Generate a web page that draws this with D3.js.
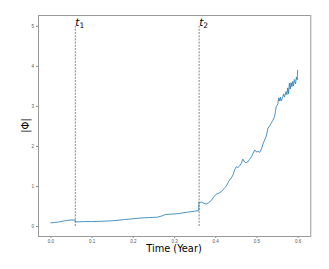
<!DOCTYPE html>
<html>
<head>
<meta charset="utf-8">
<script src="https://cdn.jsdelivr.net/npm/d3@7"></script>
<style>
  body { margin: 0; background: #fff; }
  svg { display: block; font-family: "DejaVu Sans", sans-serif; }
</style>
</head>
<body>
<svg id="chart" width="329" height="269"></svg>
<script>
// time axis (years) and |Phi|
var times = [0, 0.01, 0.02, 0.03, 0.04, 0.05, 0.06, 0.0605, 0.07, 0.08, 0.1, 0.12, 0.15, 0.18, 0.2,
  0.22, 0.24, 0.26, 0.27, 0.28, 0.3, 0.31, 0.33, 0.35, 0.36, 0.3605, 0.362, 0.366, 0.372, 0.378,
  0.384, 0.39, 0.396, 0.403, 0.409, 0.415, 0.421, 0.427, 0.431, 0.435, 0.439, 0.443, 0.447, 0.451,
  0.455, 0.459, 0.463, 0.467, 0.471, 0.475, 0.479, 0.483, 0.488, 0.492, 0.496, 0.5, 0.504, 0.508,
  0.512, 0.516, 0.52, 0.524, 0.528, 0.532, 0.536, 0.54, 0.544, 0.546, 0.548, 0.552, 0.554, 0.556,
  0.558, 0.56, 0.564, 0.566, 0.568, 0.572, 0.574, 0.576, 0.578, 0.58, 0.582, 0.584, 0.586, 0.588,
  0.59, 0.592, 0.595, 0.597, 0.599, 0.6];
var phi = [0.08, 0.085, 0.1, 0.12, 0.14, 0.15, 0.15, 0.1, 0.105, 0.11, 0.11, 0.115, 0.13, 0.16, 0.18,
  0.2, 0.21, 0.22, 0.25, 0.29, 0.3, 0.31, 0.34, 0.37, 0.38, 0.6, 0.58, 0.6, 0.57, 0.55,
  0.58, 0.63, 0.72, 0.8, 0.82, 0.86, 0.93, 1.0, 1.08, 1.15, 1.2, 1.27, 1.4, 1.48,
  1.46, 1.5, 1.56, 1.67, 1.6, 1.58, 1.6, 1.66, 1.73, 1.82, 1.9, 1.85, 1.86, 1.84,
  1.92, 2.05, 2.15, 2.25, 2.44, 2.5, 2.57, 2.64, 2.73, 2.85, 2.98, 3.05, 3.2, 3.12,
  3.22, 3.12, 3.23, 3.3, 3.22, 3.36, 3.28, 3.45, 3.3, 3.57, 3.42, 3.58, 3.48, 3.61,
  3.5, 3.66, 3.55, 3.72, 3.65, 3.9];

var xTicks = [0.0, 0.1, 0.2, 0.3, 0.4, 0.5, 0.6];
var yTicks = [0, 1, 2, 3, 4, 5];
var marks = [{ t: 0.0605, name: "1" }, { t: 0.361, name: "2" }];

var svg = d3.select("#chart"),
    box = { l: 38, t: 15, r: 310, b: 236 };

var x = d3.scaleLinear().domain([-0.03, 0.63]).range([box.l, box.r]);
var y = d3.scaleLinear().domain([-0.25, 5.27]).range([box.b, box.t]);

// tick marks and labels
var gx = svg.append("g").attr("transform", "translate(0," + box.b + ")")
  .call(d3.axisBottom(x).tickValues(xTicks).tickFormat(d3.format(".1f")).tickSize(2).tickPadding(2));
var gy = svg.append("g").attr("transform", "translate(" + box.l + ",0)")
  .call(d3.axisLeft(y).tickValues(yTicks).tickFormat(d3.format("d")).tickSize(2).tickPadding(2));
[gx, gy].forEach(function(g) {
  g.select(".domain").remove();
  g.selectAll(".tick line").attr("stroke", "#888");
  g.selectAll(".tick text").attr("fill", "#555").style("font-size", "4.5px");
});

// vertical dashed lines with t labels
marks.forEach(function(m) {
  svg.append("line")
    .attr("x1", x(m.t)).attr("x2", x(m.t))
    .attr("y1", y(0)).attr("y2", y(5))
    .attr("stroke", "#333").attr("stroke-width", 0.6)
    .attr("stroke-dasharray", "2,1.2");
  var t = svg.append("text")
    .attr("x", x(m.t)).attr("y", y(5))
    .style("font-size", "10.5px").attr("fill", "#000");
  t.append("tspan").style("font-style", "italic").text("t");
  t.append("tspan").attr("dy", 2).style("font-size", "7.5px").text(m.name);
});

// the series
var line = d3.line()
  .x(function(d, i) { return x(times[i]); })
  .y(function(d) { return y(d); });
svg.append("path")
  .datum(phi)
  .attr("d", line)
  .attr("fill", "none")
  .attr("stroke", "#1f77b4")
  .attr("stroke-width", 0.8)
  .attr("stroke-linejoin", "round");

// frame
svg.append("rect")
  .attr("x", box.l + 0.5).attr("y", box.t + 0.5)
  .attr("width", box.r - box.l).attr("height", box.b - box.t)
  .attr("fill", "none").attr("stroke", "#999").attr("stroke-width", 1);
svg.append("line").attr("x1", box.r + 1).attr("x2", box.r + 1).attr("y1", box.t).attr("y2", box.b + 1)
  .attr("stroke", "#ccc").attr("stroke-width", 1);

// axis titles
svg.append("text")
  .attr("x", (box.l + box.r) / 2).attr("y", 252)
  .attr("text-anchor", "middle")
  .style("font-size", "9.8px").attr("fill", "#000")
  .text("Time (Year)");
svg.append("text")
  .attr("transform", "translate(29," + ((box.t + box.b) / 2) + ") rotate(-90)")
  .attr("text-anchor", "middle")
  .style("font-size", "10px").attr("fill", "#000")
  .text("|Φ|");
</script>
</body>
</html>
